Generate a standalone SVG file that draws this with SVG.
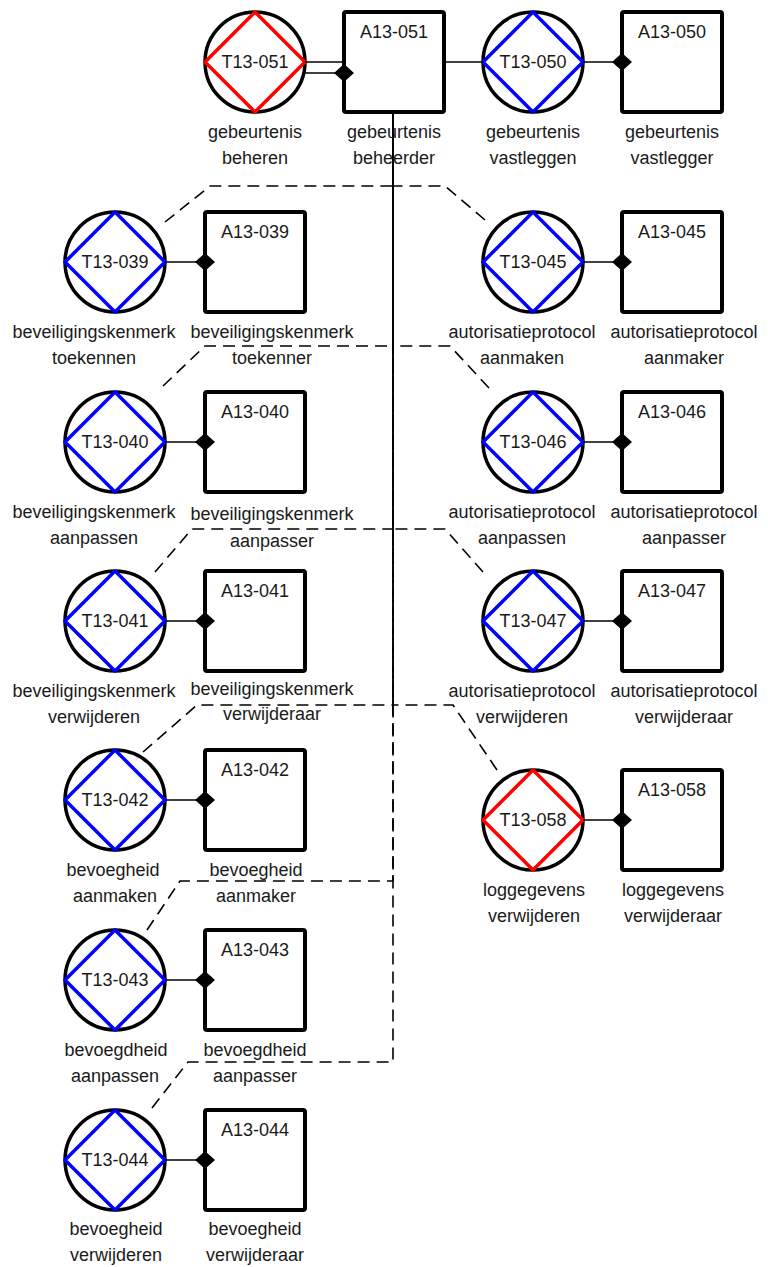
<svg xmlns="http://www.w3.org/2000/svg" width="768" height="1267" viewBox="0 0 768 1267">
<style>
.circ{fill:#fff;stroke:#000;stroke-width:3.5}
.db{fill:none;stroke:#0000ff;stroke-width:3.5;stroke-linejoin:round}
.dr{fill:none;stroke:#ff0000;stroke-width:3.5;stroke-linejoin:round}
.box{fill:#fff;stroke:#000;stroke-width:4}
.t{font-family:"Liberation Sans",Arial,sans-serif;font-size:18px;fill:#1a1a1a;text-anchor:middle}
.conn{fill:none;stroke:#000;stroke-width:1.6}
.dash{fill:none;stroke:#000;stroke-width:1.6;stroke-dasharray:12 7;stroke-linejoin:round}
</style>
<defs>
<marker id="dm" markerUnits="userSpaceOnUse" viewBox="0 0 20 18" refX="10" refY="9" markerWidth="20" markerHeight="18" orient="auto">
<path d="M0,9 L10,0 L20,9 L10,18 Z" fill="#000"/>
</marker>
</defs>
<rect width="768" height="1267" fill="#fff"/>

<g id="T13-051"><circle class="circ" cx="255" cy="62" r="50"/><polygon class="dr" points="255,12 305,62 255,112 205,62"/><text class="t" x="255" y="68">T13-051</text><text class="t" x="255" y="138">gebeurtenis</text><text class="t" x="255" y="164">beheren</text></g>
<g id="A13-051"><rect class="box" x="344" y="12" width="100" height="100" rx="2"/><text class="t" x="394" y="38">A13-051</text><text class="t" x="394" y="138">gebeurtenis</text><text class="t" x="394" y="164">beheerder</text></g>
<g id="T13-050"><circle class="circ" cx="533" cy="62" r="50"/><polygon class="db" points="533,12 583,62 533,112 483,62"/><text class="t" x="533" y="68">T13-050</text><text class="t" x="533" y="138">gebeurtenis</text><text class="t" x="533" y="164">vastleggen</text></g>
<g id="A13-050"><rect class="box" x="622" y="12" width="100" height="100" rx="2"/><text class="t" x="672" y="38">A13-050</text><text class="t" x="672" y="138">gebeurtenis</text><text class="t" x="672" y="164">vastlegger</text></g>

<g id="T13-039"><circle class="circ" cx="115" cy="262" r="50"/><polygon class="db" points="115,212 165,262 115,312 65,262"/><text class="t" x="115" y="268">T13-039</text><text class="t" x="94" y="338">beveiligingskenmerk</text><text class="t" x="94" y="364">toekennen</text></g>
<g id="A13-039"><rect class="box" x="205" y="212" width="100" height="100" rx="2"/><text class="t" x="255" y="238">A13-039</text><text class="t" x="272" y="338">beveiligingskenmerk</text><text class="t" x="272" y="364">toekenner</text></g>
<g id="T13-045"><circle class="circ" cx="533" cy="262" r="50"/><polygon class="db" points="533,212 583,262 533,312 483,262"/><text class="t" x="533" y="268">T13-045</text><text class="t" x="522" y="338">autorisatieprotocol</text><text class="t" x="522" y="364">aanmaken</text></g>
<g id="A13-045"><rect class="box" x="622" y="212" width="100" height="100" rx="2"/><text class="t" x="672" y="238">A13-045</text><text class="t" x="684" y="338">autorisatieprotocol</text><text class="t" x="684" y="364">aanmaker</text></g>

<g id="T13-040"><circle class="circ" cx="115" cy="442" r="50"/><polygon class="db" points="115,392 165,442 115,492 65,442"/><text class="t" x="115" y="448">T13-040</text><text class="t" x="94" y="518">beveiligingskenmerk</text><text class="t" x="94" y="544">aanpassen</text></g>
<g id="A13-040"><rect class="box" x="205" y="392" width="100" height="100" rx="2"/><text class="t" x="255" y="418">A13-040</text><text class="t" x="272" y="520">beveiligingskenmerk</text><text class="t" x="272" y="547">aanpasser</text></g>
<g id="T13-046"><circle class="circ" cx="533" cy="442" r="50"/><polygon class="db" points="533,392 583,442 533,492 483,442"/><text class="t" x="533" y="448">T13-046</text><text class="t" x="522" y="518">autorisatieprotocol</text><text class="t" x="522" y="544">aanpassen</text></g>
<g id="A13-046"><rect class="box" x="622" y="392" width="100" height="100" rx="2"/><text class="t" x="672" y="418">A13-046</text><text class="t" x="684" y="518">autorisatieprotocol</text><text class="t" x="684" y="544">aanpasser</text></g>

<g id="T13-041"><circle class="circ" cx="115" cy="621" r="50"/><polygon class="db" points="115,571 165,621 115,671 65,621"/><text class="t" x="115" y="627">T13-041</text><text class="t" x="94" y="697">beveiligingskenmerk</text><text class="t" x="94" y="723">verwijderen</text></g>
<g id="A13-041"><rect class="box" x="205" y="571" width="100" height="100" rx="2"/><text class="t" x="255" y="597">A13-041</text><text class="t" x="272" y="695">beveiligingskenmerk</text><text class="t" x="272" y="720">verwijderaar</text></g>
<g id="T13-047"><circle class="circ" cx="533" cy="621" r="50"/><polygon class="db" points="533,571 583,621 533,671 483,621"/><text class="t" x="533" y="627">T13-047</text><text class="t" x="522" y="697">autorisatieprotocol</text><text class="t" x="522" y="723">verwijderen</text></g>
<g id="A13-047"><rect class="box" x="622" y="571" width="100" height="100" rx="2"/><text class="t" x="672" y="597">A13-047</text><text class="t" x="684" y="697">autorisatieprotocol</text><text class="t" x="684" y="723">verwijderaar</text></g>

<g id="T13-042"><circle class="circ" cx="115" cy="800" r="50"/><polygon class="db" points="115,750 165,800 115,850 65,800"/><text class="t" x="115" y="806">T13-042</text><text class="t" x="113" y="876">bevoegheid</text><text class="t" x="115" y="902">aanmaken</text></g>
<g id="A13-042"><rect class="box" x="205" y="750" width="100" height="100" rx="2"/><text class="t" x="255" y="776">A13-042</text><text class="t" x="256" y="876">bevoegheid</text><text class="t" x="256" y="902">aanmaker</text></g>
<g id="T13-058"><circle class="circ" cx="533" cy="820" r="50"/><polygon class="dr" points="533,770 583,820 533,870 483,820"/><text class="t" x="533" y="826">T13-058</text><text class="t" x="534" y="896">loggegevens</text><text class="t" x="534" y="922">verwijderen</text></g>
<g id="A13-058"><rect class="box" x="622" y="770" width="100" height="100" rx="2"/><text class="t" x="672" y="796">A13-058</text><text class="t" x="673" y="896">loggegevens</text><text class="t" x="673" y="922">verwijderaar</text></g>

<g id="T13-043"><circle class="circ" cx="115" cy="980" r="50"/><polygon class="db" points="115,930 165,980 115,1030 65,980"/><text class="t" x="115" y="986">T13-043</text><text class="t" x="116" y="1056">bevoegdheid</text><text class="t" x="115" y="1082">aanpassen</text></g>
<g id="A13-043"><rect class="box" x="205" y="930" width="100" height="100" rx="2"/><text class="t" x="255" y="956">A13-043</text><text class="t" x="255" y="1056">bevoegdheid</text><text class="t" x="255" y="1082">aanpasser</text></g>

<g id="T13-044"><circle class="circ" cx="115" cy="1160" r="50"/><polygon class="db" points="115,1110 165,1160 115,1210 65,1160"/><text class="t" x="115" y="1166">T13-044</text><text class="t" x="116" y="1235">bevoegheid</text><text class="t" x="116" y="1261">verwijderen</text></g>
<g id="A13-044"><rect class="box" x="205" y="1110" width="100" height="100" rx="2"/><text class="t" x="255" y="1136">A13-044</text><text class="t" x="255" y="1235">bevoegheid</text><text class="t" x="255" y="1261">verwijderaar</text></g>

<g id="connectors">
<path class="dash" d="M165,222 L210,186 H393 V112"/>
<path class="dash" d="M485,220 L445,186 H393 V112"/>
<path class="dash" d="M163,386 L205,346 H393 V112"/>
<path class="dash" d="M489,388 L450,346 H393 V112"/>
<path class="dash" d="M155,572 L192,529 H393 V112"/>
<path class="dash" d="M483,572 L445,529 H393 V112"/>
<path class="dash" d="M143,752 L197,705 H393 V112"/>
<path class="dash" d="M497,770 L453,705 H393 V112"/>
<path class="dash" d="M147,930 L180,881 H393 V112"/>
<path class="dash" d="M152,1108 L188,1062 H393 V112"/>
<path class="conn" d="M305,62 H344"/>
<path class="conn" d="M304,73 H344" marker-end="url(#dm)"/>
<path class="conn" d="M444,62 H483"/>
<path class="conn" d="M583,62 H622" marker-end="url(#dm)"/>
<path class="conn" d="M165,262 H205" marker-end="url(#dm)"/>
<path class="conn" d="M583,262 H622" marker-end="url(#dm)"/>
<path class="conn" d="M165,442 H205" marker-end="url(#dm)"/>
<path class="conn" d="M583,442 H622" marker-end="url(#dm)"/>
<path class="conn" d="M165,621 H205" marker-end="url(#dm)"/>
<path class="conn" d="M583,621 H622" marker-end="url(#dm)"/>
<path class="conn" d="M165,800 H205" marker-end="url(#dm)"/>
<path class="conn" d="M583,820 H622" marker-end="url(#dm)"/>
<path class="conn" d="M165,980 H205" marker-end="url(#dm)"/>
<path class="conn" d="M165,1160 H205" marker-end="url(#dm)"/>
</g>
</svg>
